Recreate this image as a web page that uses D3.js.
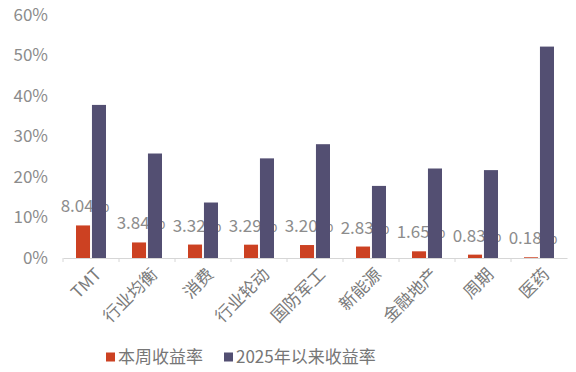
<!DOCTYPE html>
<html>
<head>
<meta charset="utf-8">
<script src="https://cdn.jsdelivr.net/npm/d3@7"></script>
<style>
  body { margin: 0; background: #fff; }
  text { font-family: "Noto Sans CJK SC", "Noto Sans", sans-serif; }
</style>
</head>
<body>
<div id="chart"></div>
<script>
var categories = ["TMT", "行业均衡", "消费", "行业轮动", "国防军工", "新能源", "金融地产", "周期", "医药"];
var weekReturn = [8.04, 3.84, 3.32, 3.29, 3.20, 2.83, 1.65, 0.83, 0.18];
var ytdReturn = [37.8, 25.8, 13.7, 24.6, 28.1, 17.8, 22.1, 21.7, 52.2];
var seriesNames = ["本周收益率", "2025年以来收益率"];
var yTicks = [0, 10, 20, 30, 40, 50, 60];

var width = 576, height = 372;
var colors = ["#cc4122", "#534f72"];

var svg = d3.select("#chart").append("svg")
  .attr("width", width)
  .attr("height", height);

var x = d3.scaleBand().domain(categories).range([63, 567]);
var y = d3.scaleLinear().domain([0, 60]).range([258, 15]);

// sub scale for the two bars in each group
var x1 = d3.scaleBand().domain([0, 1]).range([-15, 15]).paddingInner(0.12);

// y axis labels only
svg.append("g")
  .selectAll("text")
  .data(yTicks)
  .enter().append("text")
  .attr("x", 48)
  .attr("y", function(d) { return y(d); })
  .attr("dy", "0.35em")
  .attr("text-anchor", "end")
  .attr("fill", "#8c8c8c")
  .style("font-size", "17px")
  .text(function(d) { return d + "%"; });

// x axis line + ticks at band edges
var xAxis = d3.axisBottom(x).tickSize(0).tickFormat("");
var gx = svg.append("g").attr("transform", "translate(0," + y(0) + ")").call(xAxis);
gx.select(".domain").attr("stroke", "#d6d6d6").attr("stroke-width", 1.2);

svg.append("g")
  .selectAll("line")
  .data(categories)
  .enter().append("line")
  .attr("x1", function(d) { return x(d); })
  .attr("x2", function(d) { return x(d); })
  .attr("y1", y(0))
  .attr("y2", y(0) + 4)
  .attr("stroke", "#d6d6d6");

var groups = svg.selectAll(".grp")
  .data(categories)
  .enter().append("g")
  .attr("class", "grp")
  .attr("transform", function(d) { return "translate(" + (x(d) + x.bandwidth() / 2) + ",0)"; });

// weekly bars
groups.append("rect")
  .attr("x", x1(0))
  .attr("width", x1.bandwidth())
  .attr("y", function(d, i) { return y(weekReturn[i]); })
  .attr("height", function(d, i) { return y(0) - y(weekReturn[i]); })
  .attr("fill", colors[0]);

// labels for weekly return (drawn under the purple bar)
groups.append("text")
  .attr("x", x1(0) + x1.bandwidth() / 2 + 2)
  .attr("y", function(d, i) { return y(weekReturn[i]) - 13; })
  .attr("text-anchor", "middle")
  .attr("fill", "#8c8c8c")
  .style("font-size", "17px")
  .text(function(d, i) { return weekReturn[i].toFixed(2) + "%"; });

// ytd bars
groups.append("rect")
  .attr("x", x1(1))
  .attr("width", x1.bandwidth())
  .attr("y", function(d, i) { return y(ytdReturn[i]); })
  .attr("height", function(d, i) { return y(0) - y(ytdReturn[i]); })
  .attr("fill", colors[1]);

// category labels rotated
groups.append("text")
  .attr("transform", "translate(3," + (y(0) + 9) + ") rotate(-45)")
  .attr("text-anchor", "end")
  .attr("dy", "0.7em")
  .attr("fill", "#7a7a7a")
  .style("font-size", "17px")
  .text(function(d) { return d; });

// legend
var legendX = [106, 224];
var legend = svg.selectAll(".legend")
  .data(seriesNames)
  .enter().append("g")
  .attr("class", "legend")
  .attr("transform", function(d, i) { return "translate(" + legendX[i] + ",357)"; });

legend.append("rect")
  .attr("x", 0)
  .attr("y", -4.5)
  .attr("width", 9)
  .attr("height", 9)
  .attr("fill", function(d, i) { return colors[i]; });

legend.append("text")
  .attr("x", 12)
  .attr("dy", "0.35em")
  .attr("fill", "#767676")
  .style("font-size", "17px")
  .text(function(d) { return d; });
</script>
</body>
</html>
